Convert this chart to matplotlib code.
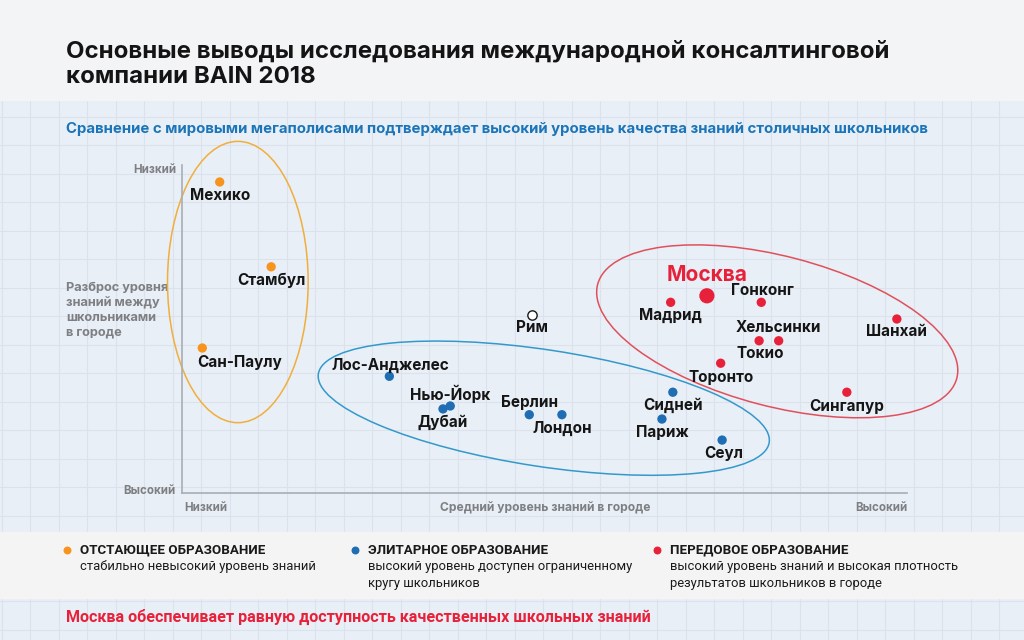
import matplotlib
matplotlib.use('Agg')
import matplotlib.pyplot as plt
from matplotlib.patches import Ellipse, Rectangle
import numpy as np

plt.rcParams['font.family'] = ['Inter', 'DejaVu Sans']

# --- data ---
# x: средний уровень знаний (0..100), y: равномерность (вверх = низкий разброс)
cities = ['Мехико', 'Стамбул', 'Сан-Паулу',
          'Лос-Анджелес', 'Нью-Йорк', 'Дубай', 'Берлин', 'Лондон',
          'Сидней', 'Париж', 'Сеул',
          'Москва', 'Мадрид', 'Гонконг', 'Хельсинки', 'Токио', 'Торонто',
          'Шанхай', 'Сингапур',
          'Рим']
x_level = [5.2, 12.3, 2.8,
           28.6, 37.0, 36.0, 47.9, 52.4,
           67.7, 66.2, 74.5,
           72.4, 67.4, 79.9, 82.3, 79.6, 74.3,
           98.6, 91.7,
           48.3]
y_even = [42.9, 31.2, 20.0,
          16.1, 12.0, 11.6, 10.8, 10.8,
          13.9, 10.2, 7.3,
          27.2, 26.3, 26.3, 21.0, 21.0, 17.9,
          24.0, 13.9,
          24.6]
groups = ['lag'] * 3 + ['elite'] * 8 + ['adv'] * 8 + ['none']
# label offsets in pixels (dx, dy; dy>0 is down)
label_off = [(0, 14), (0, 14), (37, 14),
             (1, -11), (0, -12), (0, 13), (0, -12), (0, 14),
             (0, 13), (0, 13), (2, 13),
             (0, -21), (0, 13), (1, -12), (0, -13), (1, 13), (0, 14),
             (0, 13), (0, 14),
             (0, 13)]

# group ellipses: center x, center y, width, height, angle
ell_groups = ['lag', 'elite', 'adv']
ell_cx = [7.7, 49.9, 82.1]
ell_cy = [29.1, 11.7, 22.3]
ell_w = [19.4, 62.9, 51.2]
ell_h = [38.8, 16.1, 20.7]
ell_ang = [0, -8.65, -14.65]

dot_col = {'lag': '#f7941d', 'elite': '#1f6db3', 'adv': '#e8213a', 'none': 'white'}
ell_col = {'lag': '#f0ae3c', 'elite': '#3399cc', 'adv': '#e0505c'}

legend_titles = ['ОТСТАЮЩЕЕ ОБРАЗОВАНИЕ', 'ЭЛИТАРНОЕ ОБРАЗОВАНИЕ', 'ПЕРЕДОВОЕ ОБРАЗОВАНИЕ']
legend_texts = ['стабильно невысокий уровень знаний',
                'высокий уровень доступен ограниченному\nкругу школьников',
                'высокий уровень знаний и высокая плотность\nрезультатов школьников в городе']

W, H = 1024, 640
fig = plt.figure(figsize=(W / 100, H / 100), dpi=100)
narrow = ['Liberation Sans Narrow', 'Roboto']

# background in pixel coordinates
bg = fig.add_axes([0, 0, 1, 1])
bg.set_xlim(0, W)
bg.set_ylim(H, 0)
bg.axis('off')
bg.add_patch(Rectangle((0, 0), W, H, color='#e9eff6', zorder=0))
for gx in np.arange(1.5, W, 28.5):
    bg.axvline(gx, color='#dbe2eb', lw=0.8, zorder=1)
for gy in np.arange(116.5, H, 28.5):
    bg.axhline(gy, color='#dbe2eb', lw=0.8, zorder=1)
bg.add_patch(Rectangle((0, 0), W, 100, color='#f3f4f6', zorder=2))
bg.add_patch(Rectangle((0, 532), W, 66, color='#f4f4f5', zorder=2))

bg.text(66, 64, 'Основные выводы исследования международной консалтинговой\nкомпании BAIN 2018',
        fontsize=17.3, fontweight='bold', color='#141414', va='center', linespacing=1.22, zorder=3)
bg.text(66, 129, 'Сравнение с мировыми мегаполисами подтверждает высокий уровень качества знаний столичных школьников',
        fontsize=10.8, fontweight='bold', color='#1b75b8', va='center', zorder=3)

gray = '#7d7f82'
bg.text(176, 170, 'Низкий', fontsize=8.3, fontweight='bold', color=gray, ha='right', va='center', zorder=3)
bg.text(176, 491, 'Высокий', fontsize=8.3, fontweight='bold', color=gray, ha='right', va='center', zorder=3)
bg.text(184, 508, 'Низкий', fontsize=8.3, fontweight='bold', color=gray, ha='left', va='center', zorder=3)
bg.text(545, 508, 'Средний уровень знаний в городе', fontsize=8.7, fontweight='bold', color=gray,
        ha='center', va='center', zorder=3)
bg.text(907, 508, 'Высокий', fontsize=8.3, fontweight='bold', color=gray, ha='right', va='center', zorder=3)
bg.text(66, 310, 'Разброс уровня\nзнаний между\nшкольниками\nв городе', fontsize=9.2, fontweight='bold',
        color=gray, ha='left', va='center', linespacing=1.3, zorder=3)

# legend
leg_x = [67, 355, 657]
for i, g in enumerate(ell_groups):
    bg.scatter([leg_x[i]], [550], s=22, color=dot_col[g], zorder=4)
    bg.text(leg_x[i] + 13, 550, legend_titles[i], fontsize=9.6, fontweight='bold', color='#1a1a1a',
            va='center', family=narrow, zorder=4)
    bg.text(leg_x[i] + 13, 560, legend_texts[i], fontsize=9.4, color='#1a1a1a', va='top',
            linespacing=1.42, family=narrow, zorder=4)

bg.text(66, 617, 'Москва обеспечивает равную доступность качественных школьных знаний', fontsize=11.6,
        fontweight='bold', color='#e8213a', va='center', family=narrow, zorder=4)

# main plot
ax = fig.add_axes([182 / W, (H - 493) / H, 725 / W, 328 / H])
ax.set_xlim(0, 100)
ax.set_ylim(0, 328 / 7.25)
ax.patch.set_alpha(0)
for s in ['top', 'right']:
    ax.spines[s].set_visible(False)
for s in ['left', 'bottom']:
    ax.spines[s].set_color('#a9aeb5')
    ax.spines[s].set_linewidth(1.2)
ax.set_xticks([])
ax.set_yticks([])

for i, g in enumerate(ell_groups):
    ax.add_patch(Ellipse((ell_cx[i], ell_cy[i]), ell_w[i], ell_h[i], angle=ell_ang[i],
                         fill=False, edgecolor=ell_col[g], lw=1.1, clip_on=False, zorder=2))

for i, name in enumerate(cities):
    g = groups[i]
    big = name == 'Москва'
    ax.scatter(x_level[i], y_even[i], s=120 if big else 45, color=dot_col[g],
               edgecolor='#1a1a1a' if g == 'none' else 'none', linewidth=1.0,
               clip_on=False, zorder=4)
    dx, dy = label_off[i]
    ax.annotate(name, (x_level[i], y_even[i]), xytext=(dx * 0.72, -dy * 0.72), textcoords='offset points',
                ha='center', va='center', fontsize=15 if big else 11, fontweight='bold',
                color='#e8213a' if big else '#151515', annotation_clip=False, zorder=5)

fig.savefig('out.png', dpi=100)
